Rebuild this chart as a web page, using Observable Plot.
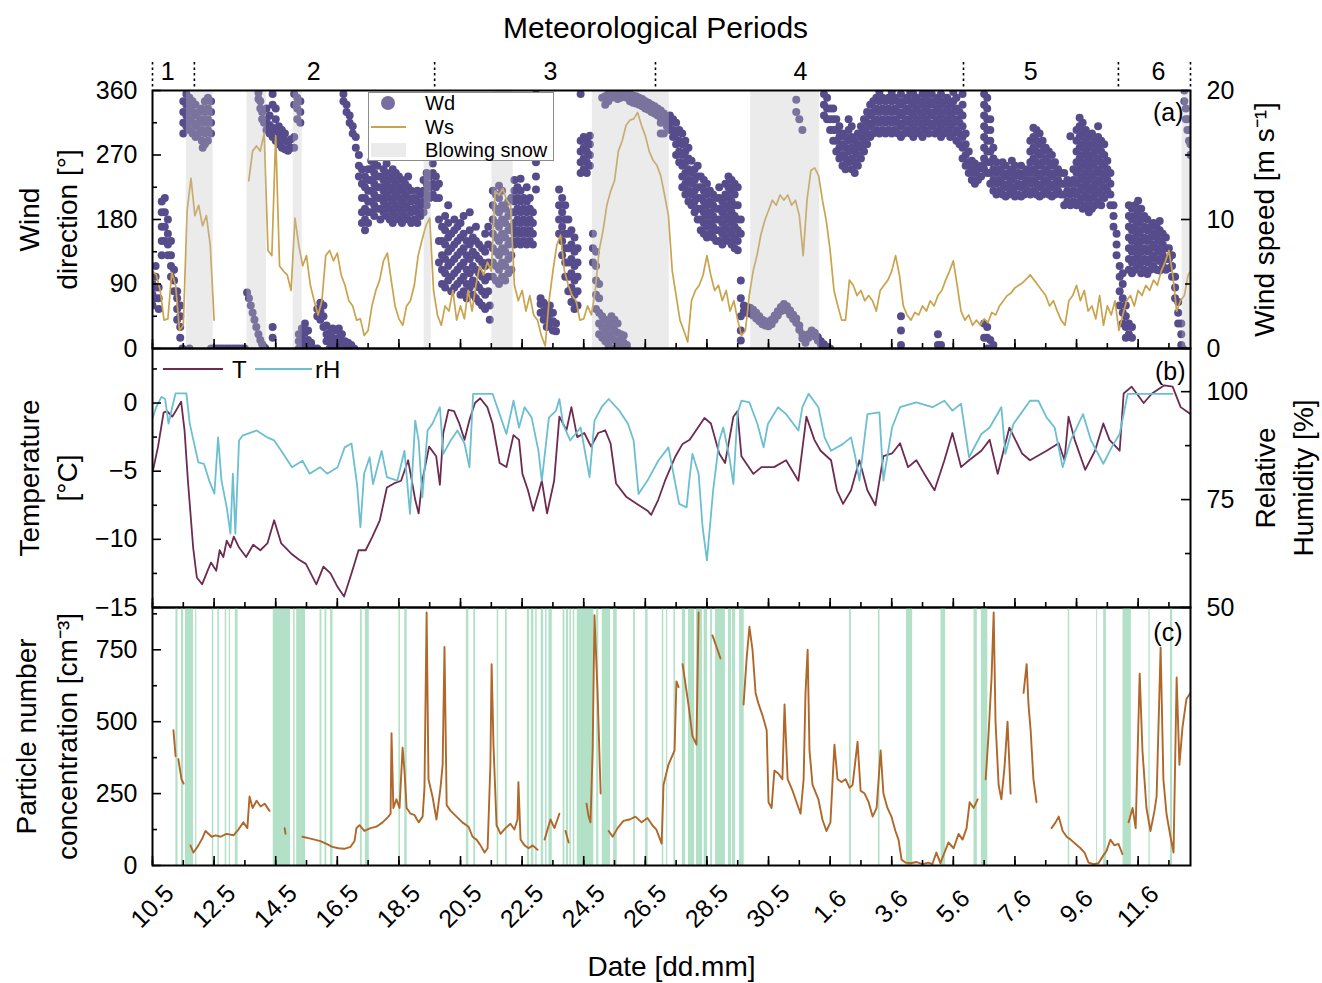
<!DOCTYPE html>
<html><head><meta charset="utf-8">
<script src="https://cdn.jsdelivr.net/npm/d3@7"></script>
<script src="https://cdn.jsdelivr.net/npm/@observablehq/plot@0.6"></script>
<style>
body{margin:0;background:#fff;}
#wrap{position:relative;width:1322px;height:983px;font-family:"Liberation Sans",Arial,sans-serif;}
#wrap > svg{display:block;}
#overlay{position:absolute;left:0;top:0;pointer-events:none;}
</style></head><body><div id="wrap"></div>
<script>
// ---------- data (time = days since 10.05 00:00) ----------
const xDomain = [0, 33.7];
const tickDays = [0,2,4,6,8,10,12,14,16,18,20,22,24,26,28,30,32];
const tickLabels = ["10.5","12.5","14.5","16.5","18.5","20.5","22.5","24.5","26.5","28.5","30.5","1.6","3.6","5.6","7.6","9.6","11.6"];
const periodBounds = [0,1.36,9.16,16.33,26.33,31.36,33.7];
const periodNames = ["1","2","3","4","5","6"];
const periodLabelDays = [0.49,5.23,12.92,21.04,28.51,32.66];
const snowPeriods = [[1.10,1.97],[3.07,3.70],[4.57,4.86],[8.82,9.05],[11.02,11.71],[14.28,16.78],[19.42,21.66],[33.43,33.70]];
const pollutedPeriods = [[0.76,0.83],[0.94,1.01],[1.07,1.33],[1.40,1.44],[1.94,1.99],[2.12,2.17],[2.36,2.41],[2.49,2.53],[2.69,2.78],[3.92,4.48],[4.58,4.63],[4.68,4.97],[5.44,5.50],[5.60,5.66],[5.78,5.86],[6.75,6.81],[6.91,7.04],[8.00,8.05],[8.19,8.27],[10.19,10.27],[10.43,10.49],[11.19,11.24],[11.46,11.52],[12.17,12.24],[12.30,12.38],[12.44,12.49],[12.62,12.70],[12.76,12.81],[12.87,12.98],[13.33,13.39],[13.44,13.51],[13.55,13.60],[13.66,13.71],[13.79,14.33],[14.42,14.49],[14.60,14.87],[14.97,15.09],[15.62,15.68],[16.01,16.09],[16.55,16.60],[16.69,16.73],[16.93,16.98],[17.20,17.31],[17.40,17.60],[17.66,17.86],[17.91,18.02],[18.12,18.18],[18.28,18.60],[18.70,18.80],[18.83,18.93],[19.06,19.21],[22.63,22.69],[23.57,23.62],[24.48,24.68],[25.60,25.75],[26.67,26.78],[26.91,27.12],[29.73,29.78],[30.65,30.68],[30.88,30.97],[31.51,31.78],[32.35,32.39],[33.05,33.12]];

// wind speed [m/s], every 0.125 day from day 0 (null = no data)
const wsStart = 0, wsStep = 0.125;
const wsValues = [6.0,5.7,4.5,2.2,2.3,5.9,4.9,1.4,1.8,10.7, 13.2,10.3,11.1,9.5,10.3,8.0,2.2,null,null,null, null,null,null,null,null,13.0,15.3,15.7,15.3,16.7, 7.6,7.2,16.5,6.4,6.0,5.7,4.5,10.1,8.0,6.4, 7.2,4.9,3.7,2.6,3.7,7.2,7.6,6.8,7.4,5.7, 4.9,3.7,3.3,2.2,2.3,1.0,1.4,3.3,4.5,5.3, 6.8,7.4,5.3,3.3,2.3,1.8,3.3,3.7,4.9,7.2, 8.4,9.5,10.1,4.5,2.6,1.8,3.3,2.9,4.5,2.2, 3.3,2.3,4.5,2.9,4.9,6.4,5.7,6.7,6.0,12.2, 11.9,12.4,11.5,11.1,4.9,3.7,4.5,2.9,4.1,2.6, 2.2,1.0,0.2,3.7,6.0,8.0,8.8,6.0,4.9,4.1, 3.7,2.2,2.3,3.3,2.6,4.5,7.6,9.1,11.1,12.2, 13.0,15.3,16.1,17.3,17.7,17.8,18.3,17.3,16.5,15.3, 14.6,14.2,13.4,11.9,10.3,6.0,4.1,2.2,1.4,0.5, 3.7,4.5,4.9,5.7,7.2,5.7,4.5,4.9,3.7,4.5, 2.9,3.7,2.2,1.0,1.4,4.1,6.0,7.2,8.8,9.9, 10.7,11.5,11.1,11.9,11.5,11.9,11.1,11.5,10.3,7.2, 11.5,13.8,14.0,13.4,11.5,9.9,7.6,4.5,3.3,2.2, 2.2,5.3,4.9,4.1,4.5,3.7,4.1,3.7,2.9,4.5, 4.9,5.3,6.0,7.2,5.7,3.3,2.6,2.2,2.8,2.6, 3.3,2.9,3.7,3.3,4.1,4.5,5.3,6.0,6.8,4.9, 2.9,2.2,2.6,1.8,2.2,1.8,2.3,2.0,2.8,2.6, 3.3,3.7,4.1,4.3,4.7,4.9,5.1,5.4,5.7,5.3, 4.9,4.5,4.1,3.3,3.7,2.9,2.2,1.8,3.7,4.1, 4.9,3.7,4.5,2.9,3.3,2.3,4.1,1.8,3.3,2.6, 3.7,1.4,2.6,3.7,4.1,3.3,4.5,4.1,4.9,4.5, 5.3,4.9,6.0,6.7,7.6,5.7,2.9,3.7,4.1,5.7, 6.2];

// wind direction [deg]: [day, values observed at that time...]
const wdRows = [
[0.0,60,75,90],[0.1,70,85,100,115],[0.2,55,70,85],[0.3,130,150,170,190,205],[0.4,150,170,190,210],[0.5,130,145,160,180],[0.6,100,115,130,150],[0.7,80,95,110],[0.8,40,55,70,80],[0.9,15,30,45,60],[0.97,0],
[1.0,300,315,330,345],[1.1,310,325,340,355],[1.2,305,320,335,350,0],[1.3,300,315,330,345],[1.4,295,310,325,340],[1.5,300,315,330],[1.6,290,305,320,335],[1.63,280],[1.7,285,300,315,330,345],[1.8,290,305,320,335,350],[1.9,300,315,330,345,0],
[2.0,0],[2.1,0],[2.2,0],[2.3,0],[2.4,0],[2.5,0],[2.6,0],[2.7,0],[2.8,0],[2.9,0],[3.0,0],
[3.07,78],[3.13,70],[3.19,60],[3.25,50],[3.31,40],[3.37,30],[3.44,20,357,348],[3.50,12,345,335],[3.56,6,330,320],[3.62,2,315],[3.67,0],
[3.7,305,320,335],[3.8,300,312,325],[3.9,295,308,340,355,30,15],[4.0,290,305,320,335],[4.1,285,298,310],[4.2,280,292,305],[4.3,278,290,300],[4.4,276,288],[4.5,280,292],[4.6,280,295,340,355],[4.7,320,335,350],[4.8,315,330,345],
[4.75,0,10,20],[4.85,5,15,28],[4.95,10,22,35],[5.05,0,12,25],[5.15,0,8],[5.25,0],[5.35,0,45,55],[5.45,40,52,64],[5.55,30,45,60],[5.65,10,20,32],[5.75,0,10,22],[5.85,5,15,28],[5.95,0,12,25],[6.05,5,15,28],[6.15,0,10,20],[6.25,0,10],[6.35,0,8],[6.45,0,5],[6.55,0],
[6.2,355,345],[6.3,340,330],[6.4,325,315],[6.5,310,300],[6.6,295,280],[6.7,270,255,240],[6.8,250,230,210,190,175],
[6.9,165,180,195,210,225,240],[7.0,175,190,205,220,235,250],[7.1,190,205,220,235,250,262],[7.2,185,200,215,230,245,258],[7.3,195,210,225,240,255],[7.4,180,195,210,225,240],[7.5,190,205,220,235,250],[7.6,185,200,215,230,245,258],[7.7,180,195,210,225,240],[7.8,175,190,205,220,235,250],[7.9,185,200,215,230,245],[8.0,180,195,210,225,240],[8.1,175,190,205,220,235],[8.2,185,200,215,230],[8.3,180,195,210,225,240],[8.4,175,190,205,220],[8.5,180,195,210],[8.6,175,190,205,220],[8.7,185,200,215],[8.8,190,205,220,235],[8.9,200,215,230,245],[9.0,210,225,240],[9.1,215,230,245,258],[9.2,210,225,240],
[9.3,120,150,180,210,230],[9.4,90,110,130,150,170],[9.5,85,105,125,145,165,185],[9.6,95,115,135,155,175,200],[9.7,80,100,120,140,160],[9.8,85,105,125,145,165,180],[9.9,90,110,130,150,170],[10.0,75,95,115,135,155,175],[10.1,80,100,120,140,160,185],[10.2,70,90,110,130,150],[10.3,85,105,125,145,165,190],[10.4,75,95,115,135,155],[10.5,70,90,110,130,150,170],[10.6,65,85,105,125,145],[10.7,60,80,100,120,140],[10.8,55,75,95,115,135,160],[10.9,80,100,120,145,170],[10.95,40,60],
[11.05,100,120,140,160,180,200,220],[11.15,95,115,135,155,175,195,215],[11.25,90,110,130,150,170,190,210,227],[11.35,100,120,140,160,180,200,220],[11.45,95,115,135,155,175,195],[11.55,105,125,145,165,185,205],[11.65,110,130,150,170,190,210],[11.75,145,160,175,190,205,220,235],[11.85,150,165,180,195,210,225],[11.95,145,160,175,190,205,220,237],[12.05,150,165,180,195,210],[12.15,145,160,175,190,205,225],[12.25,150,165,180,195,210],[12.35,145,160,175,190],[12.45,355,222,240,260],
[12.55,350],[12.6,50,62,70],[12.7,40,52,64],[12.8,30,42,55],[12.9,35,48,60],[13.0,25,38,50],[13.1,24,35],
[13.2,160,180,200,222],[13.3,130,150,170,190,210],[13.4,100,120,140,160,180,200],[13.5,80,100,120,140,160,180],[13.6,65,85,105,125,145,165],[13.7,55,75,95,115,135,155],[13.8,60,80,100,120,140],[13.9,355,245,260,275,290],
[14.0,250,265,280,295],[14.1,245,260,275,290],[14.2,255,270,285,297],
[14.3,120,140,160],[14.4,55,75,95,115,135],[14.5,20,35,50,70,90],[14.6,15,30,45,350],[14.7,10,25,40,340,352],[14.8,5,20,35,345,355],[14.9,0,15,30,45,350],[15.0,0,12,25,40,355],[15.1,0,10,22,35,348,358],[15.2,0,10,20,350],[15.3,0,8,18,355],[15.4,0,5,350,358],
[15.5,345,355],[15.6,343,353],[15.7,342,352],[15.8,340,350],[15.9,338,348],[16.0,335,345],[16.1,333,343],[16.2,330,340],[16.3,328,338],[16.4,325,335],[16.5,300,315,322,332],[16.6,300,318,328],[16.7,310,320],[16.8,305,315,325],[16.9,295,305,320],
[17.0,270,285,300,315],[17.1,260,275,290,305],[17.2,225,240,255,270,285,300],[17.3,215,230,245,260,275,290],[17.4,205,220,235,250,265,280],[17.5,200,215,230,245,262],
[17.6,190,205,220,235,250],[17.7,180,195,210,225,240,255],[17.8,165,180,195,210,225,240],[17.9,160,175,190,205,220,235],[18.0,155,170,185,200,215,230],[18.1,160,175,190,205,220],[18.2,155,170,185,200,215],[18.3,150,165,180,195,210],[18.4,150,165,180,195,210,225],[18.5,145,160,175,190,205],[18.6,155,170,185,200,215,230],[18.7,150,165,180,195,210,225,240],[18.8,145,160,175,190,205,220,235],[18.9,140,155,170,185,200,215,230],[19.0,137,150,165,180,200,225],[19.1,11,25,45,70,95,160,180],
[19.2,60,52],[19.3,58,50],[19.4,57,49],[19.5,54,46],[19.6,50,42],[19.7,45,38],[19.8,40,34],[19.9,38,32],[20.0,37,31],[20.1,40,34],[20.2,46,40],[20.3,52,46],[20.4,58,52],[20.5,62,56],[20.6,59,53],[20.7,53,47],[20.8,47,41],[20.9,42,36,347,330],[21.0,32,26,320],[21.1,20,14,305],[21.2,13,8],[21.3,20,15],[21.4,25,20],[21.5,22,17],[21.6,16,11],[21.7,10,6],[21.8,6,2],[21.9,2],[22.0,0],
[21.8,325,340,355],[21.9,320,335,350],[22.0,305,320,335],[22.1,290,305,320,335],[22.2,275,290,305,320],[22.3,265,280,295,310],[22.4,255,270,285,300],[22.5,250,265,280,295],[22.6,260,275,290,305,320],[22.7,250,265,280,295,310],[22.8,245,260,275,290],[22.9,255,270,285,300],[23.0,265,280,295,310],[23.1,275,290,305,320],[23.2,285,300,315,330],[23.3,295,310,325,340],[23.4,300,315,330,345],[23.5,305,320,335,350],[23.6,300,315,330,345,358],[23.7,305,320,335,350],[23.8,300,315,330,345],[23.9,305,320,335,350],[24.0,300,315,330,345,358],[24.1,305,320,335,350],[24.2,300,315,330,345],
[24.3,295,310,325,340,355,5,25,45],[24.4,300,315,330,345],[24.5,305,320,335,350],[24.6,300,315,330,345,358],[24.7,295,310,325,340,355],[24.8,305,320,335,350],[24.9,300,315,330,345],[25.0,295,310,325,340,355],[25.1,305,320,335,350],[25.2,300,315,330,345,358],[25.3,310,325,340,355],[25.4,300,315,330,345],[25.5,305,320,335,350,5,20],[25.6,295,310,325,340,355,5],[25.7,300,315,330,345],[25.8,305,320,335,350],[25.9,295,310,325,340],[26.0,300,315,330,345,358],[26.1,290,305,320,335,350],[26.2,285,300,315,330],
[26.3,265,280,295,310,325,340,355],[26.4,255,270,285,300],[26.5,245,260,275],[26.6,235,250,262],[26.7,230,245,258],[26.8,235,250],[26.9,240,255],[27.0,15,35,250,265,280,295,310,325,340,355],[27.1,0,15,30,245,260,275,290,305,320,335,350],[27.2,0,12,230,245,260,275,290,305,320],[27.3,5,220,235,250,265,280],[27.4,215,230,245,260],[27.5,220,235,250],
[27.6,215,230,245,260],[27.7,212,225,240,255],[27.8,215,230,245],[27.9,220,235,250,262],[28.0,212,225,240,255],[28.1,215,230,245],[28.2,212,225,240,255],[28.3,215,230,245],[28.4,220,235,250],
[28.5,215,230,245,260,275,290],[28.6,220,235,250,265,280,295,308],[28.7,215,230,245,260,275,290,305],[28.8,212,225,240,255,270,285,300],[28.9,215,230,245,260,275,290],[29.0,220,235,250,265,280],[29.1,215,230,245,260,275],[29.2,212,225,240,255,270],[29.3,215,230,245,260],[29.4,220,235,250],[29.5,215,230,245],
[29.6,200,215,230,245],[29.7,205,220,235],[29.8,200,215,230,296],[29.9,205,220,235,250],[30.0,200,215,230,245,260,275,290,305],[30.1,205,220,235,250,265,280,295,310,322],[30.2,195,210,225,240,255,270,285,300,315],[30.3,200,215,230,245,260,275,290,305],[30.4,190,205,220,235,250,265,280,295],[30.5,195,210,225,240,255,270,285,300],[30.6,200,215,230,245,260,275,290],[30.7,205,220,235,250,265,280,295,310],[30.8,200,215,230,245,260,275,290],[30.9,210,225,240,255,270,285],[31.0,220,235,250,262],
[31.1,200,215,230,245],[31.2,170,185,200],[31.3,130,145,160],[31.4,60,80,100,115],[31.5,35,50,70,90,105],[31.6,15,30,45,60],
[31.7,110,125,140,155,170,185,200,20,35],[31.8,105,120,135,150,165,180,195,15,30],[31.9,110,125,140,155,170,185,200],[32.0,115,130,145,160,175,190,206],[32.1,105,120,135,150,165,180,195],[32.2,110,125,140,155,170,185],[32.3,104,120,135,150,165,180],
[32.4,110,125,140,155,170],[32.5,115,130,145,160,175],[32.6,110,125,140,155,170],[32.7,109,122,135,150,165,178],[32.8,115,130,145,160],[32.9,110,125,140,155],[33.0,112,125,140],[33.1,100,115,130],
[33.2,70,85,100],[33.3,35,50,65],[33.4,5,20,35],[33.45,0],
[33.5,345,360],[33.55,320,335],[33.6,305,320],[33.65,290,305],[33.7,270,285]
];

// temperature [°C]
const tDays = [0.01,0.18,0.36,0.47,0.64,0.75,0.93,1.04,1.15,1.32, 1.44,1.61,1.79,1.90,2.07,2.18,2.30,2.41,2.53,2.64, 2.81,3.04,3.27,3.50,3.73,3.95,4.18,4.53,4.76,4.98, 5.32,5.55,5.78,6.01,6.22,6.46,6.69,6.92,7.14,7.38, 7.61,7.84,8.07,8.30,8.53,8.64,8.76,8.98,9.21,9.33, 9.44,9.61,9.79,9.96,10.13,10.29,10.47,10.64,10.87,11.04, 11.27,11.49,11.72,11.90,12.01,12.19,12.36,12.53,12.64,12.81, 13.04,13.21,13.44,13.60,13.79,14.02,14.24,14.47,14.70,14.87, 15.05,15.39,15.73,16.07,16.19,16.42,16.64,16.98,17.21,17.44, 17.92,18.13,18.40,18.59,18.86,18.99,19.12,19.51,19.77,20.18, 20.57,20.97,21.23,21.49,21.69,22.03,22.22,22.42,22.68,22.95, 23.21,23.47,23.73,24.01,24.27,24.53,24.80,25.06,25.39,25.71, 25.97,26.25,26.51,26.91,27.18,27.44,27.82,28.23,28.49,29.03, 29.42,29.61,29.74,29.94,30.28,30.60,30.87,31.07,31.40,31.53, 31.79,32.18,32.45,32.85,33.12,33.38,33.57,33.70];
const tValues = [-5.0,-3.2,-0.7,-0.6,-1.0,-0.6,0.1,-2.0,-5.7,-10.6, -12.8,-13.3,-12.3,-11.7,-12.3,-10.8,-11.3,-10.1,-10.6,-9.8, -10.6,-11.3,-10.4,-10.8,-10.3,-8.6,-10.3,-11.1,-11.5,-11.8, -13.3,-12.0,-12.5,-13.5,-14.2,-12.5,-10.8,-10.8,-9.8,-8.6, -6.2,-5.9,-5.7,-4.2,-7.1,-8.1,-5.7,-3.2,-3.9,-6.0, -2.2,-0.5,-0.6,-1.5,-2.7,-1.25,0,0.35,-0.3,-1.5, -4.4,-4.7,-2.35,-2.7,-5.2,-6.4,-7.9,-6.6,-5.7,-8.1, -5.7,-1.0,-2.0,-0.3,-2.5,-2.2,-3.2,-2.2,-2.0,-2.95, -5.9,-6.9,-7.4,-7.9,-8.2,-7.1,-5.7,-3.9,-3.0,-2.7, -1.1,-1.5,-3.7,-4.4,-1.0,-0.6,-3.9,-5.2,-4.7,-4.7, -4.2,-5.7,-1.0,-2.7,-3.5,-4.2,-6.4,-7.4,-6.4,-4.2, -6.4,-7.5,-3.9,-3.7,-2.95,-4.7,-4.2,-5.2,-6.4,-4.2, -2.2,-4.7,-4.2,-3.5,-2.7,-5.2,-1.8,-3.7,-4.2,-3.5, -2.95,-4.2,-1.0,-2.7,-4.9,-3.5,-1.5,-2.7,-3.5,0.7, 1.2,0,0.7,1.3,1.2,-0.3,-0.6,-0.8];

// relative humidity [%]
const rhDays = [0.01,0.12,0.29,0.41,0.52,0.64,0.75,1.10,1.21,1.38, 1.49,1.67,1.84,2.01,2.13,2.24,2.41,2.53,2.61,2.69, 2.81,2.92,3.38,3.73,3.95,4.18,4.53,4.87,5.10,5.44, 5.67,6.01,6.24,6.46,6.64,6.75,6.87,7.05,7.16,7.44, 7.61,7.95,8.18,8.36,8.53,8.64,8.76,8.93,9.09,9.33, 9.44,9.68,9.90,10.13,10.29,10.41,11.04,11.27,11.49,11.72, 11.90,12.08,12.31,12.53,12.64,12.87,13.10,13.21,13.33,13.56, 13.90,14.19,14.35,14.58,14.81,15.16,15.44,15.62,15.78,16.07, 16.42,16.75,17.10,17.34,17.44,17.53,17.73,17.86,18.00,18.20, 18.40,18.53,18.73,18.86,18.99,19.12,19.38,19.64,19.84,19.98, 20.31,20.57,20.97,21.10,21.30,21.62,21.82,22.03,22.42,22.68, 22.82,22.95,23.21,23.60,23.73,24.01,24.27,24.80,25.32,25.71, 25.97,26.25,26.51,26.91,27.18,27.56,27.69,27.95,28.49,28.76, 29.03,29.29,29.55,29.81,30.21,30.47,30.87,31.14,31.40,31.66, 33.12];
const rhValues = [94.0,96.4,98.8,98.3,92.6,96.4,99.6,99.6,92.6,87.1, 83.6,83.3,79.4,76.4,89.4,79.4,73.2,67.1,81,67.1, 88.7,89.8,91.0,89.4,88.7,86.3,82.5,84.0,81,82.5, 81,82.5,87.1,88,78.6,68.6,81,84.8,78.6,86.3, 80.2,79.4,86.3,71.7,93.3,88.7,75.5,91,92.6,96.4, 85.6,88.7,91,88,82.5,99.5,99.5,94.8,90.2,97.9, 91.7,96.4,94.0,86.3,79.4,94,95.6,98.3,92.5,88.7, 91.7,80.2,93.3,96.4,98.3,95.6,92.5,88.7,76.3,79.4, 84.0,87.1,74,73.2,80.2,85.6,81,68.6,60.9,77, 88.7,91.7,84.8,78.6,94.8,97.9,97.5,92.5,87.1,92.5, 96.4,94.8,91,96.4,99.5,96.4,89.4,86.3,87.9,89.4, 84.8,79.4,94.8,95.2,79.4,91.7,96.4,97.5,96.4,97.9, 95.6,97.2,84.8,90.2,91.7,96.4,85.6,92.5,97.9,97.9, 94,91.7,82.5,88.7,94.8,88.7,83.3,87.1,90.2,99.5, 99.5];

// particle number concentration [cm^-3] (null = gap)
const pncDays = [0.68,0.75,0.80,0.84,0.94,1.01,1.05,1.23,1.33,1.43,1.49,1.62,1.72,1.92,2.05,2.21,2.40,2.63,2.79,2.95,3.08,3.15,3.25,3.38,3.51,3.64,3.80,3.85,4.29,4.32,4.40,4.87,5.06,5.26,5.45,5.65,5.84,6.04,6.23,6.43,6.56,6.62,6.72,6.88,7.08,7.27,7.47,7.66,7.73,7.76,7.82,7.92,8.02,8.12,8.18,8.25,8.38,8.51,8.64,8.77,8.83,8.90,8.96,9.09,9.22,9.35,9.42,9.48,9.55,9.68,9.87,10.06,10.26,10.39,10.52,10.65,10.78,10.88,10.97,11.01,11.07,11.17,11.30,11.46,11.62,11.75,11.85,11.88,11.95,12.08,12.21,12.34,12.50,12.60,12.73,12.92,13.05,13.21,13.30,13.41,13.51,13.60,14.09,14.16,14.22,14.29,14.35,14.45,14.55,14.65,14.81,14.94,15.10,15.29,15.49,15.68,15.88,16.07,16.23,16.36,16.53,16.59,16.75,16.95,17.01,17.08,17.15,17.21,17.40,17.53,17.66,17.73,17.90,18.18,18.31,18.44,18.60,19.19,19.29,19.38,19.48,19.58,19.68,19.81,19.94,20.00,20.10,20.19,20.32,20.45,20.52,20.62,20.78,20.91,21.04,21.14,21.20,21.27,21.33,21.43,21.62,21.75,21.88,22.01,22.14,22.24,22.37,22.50,22.63,22.73,22.89,22.99,23.12,23.25,23.38,23.51,23.64,23.73,23.86,23.99,24.12,24.22,24.32,24.45,24.61,24.81,25.00,25.19,25.32,25.45,25.58,25.84,26.01,26.17,26.30,26.43,26.53,26.66,26.79,26.85,27.05,27.14,27.24,27.31,27.37,27.47,27.56,27.66,27.76,27.86,28.00,28.28,28.38,28.44,28.51,28.60,28.70,28.90,29.19,29.32,29.42,29.55,29.68,29.81,29.97,30.13,30.26,30.39,30.55,30.71,30.84,30.97,31.10,31.23,31.36,31.49,31.60,31.69,31.82,31.92,32.05,32.14,32.27,32.40,32.53,32.60,32.73,32.82,32.92,33.05,33.15,33.25,33.34,33.44,33.57,33.70];
const pncValues = [470,380,null,370,300,285,null,70,45,60,70,95,120,100,105,100,110,105,125,150,130,240,200,225,205,215,190,null,130,110,null,100,95,90,85,75,65,60,58,65,85,130,140,120,130,135,150,170,180,460,200,230,200,410,330,200,180,175,150,170,270,880,300,240,160,270,350,760,210,190,170,150,135,100,90,70,45,60,350,700,420,140,110,130,145,125,160,290,90,70,60,70,55,null,90,160,130,180,null,120,80,null,215,170,150,400,870,600,250,null,120,100,130,155,160,170,150,165,140,125,76,280,350,400,640,620,null,700,560,450,420,880,null,800,760,720,null,560,720,830,750,600,560,520,470,220,200,330,320,300,560,300,260,220,180,300,600,750,400,280,230,160,120,150,420,300,290,300,270,280,430,260,250,220,170,200,400,250,200,170,120,90,20,10,8,12,5,10,5,45,8,80,60,110,90,130,220,200,230,null,300,450,650,880,500,280,230,340,500,250,null,600,700,560,470,300,220,null,130,150,170,120,100,90,75,60,45,10,5,8,30,50,90,70,75,40,null,150,200,130,667,400,200,120,190,240,758,300,180,100,45,654,350,480,580,600];

// axis tick values
const wdTicks = [0,90,180,270,360], wdMinor = [45,135,225,315];
const wsTicks = [0,10,20], wsMinor = [5,15];
const tTicks = [-15,-10,-5,0], tMinor = [-12.5,-7.5,-2.5,2.5];
const rhTicks = [50,75,100], rhMinor = [62.5,87.5];
const pncTicks = [0,250,500,750], pncMinor = [125,375,625,875];

// ---------- drawing ----------
const W = 1322, ML = 152, MR = 132, innerW = W - ML - MR;
const FONT = "'Liberation Sans', Arial, sans-serif";
const style = {fontFamily: FONT, fontSize: "25px", background: "transparent", overflow: "visible", color: "#000"};
const MAJ = 9, MIN = 5, TSW = 1.6;
const minus = d => d < 0 ? "\u2212" + (-d) : String(d);
const dayTicks = d3.range(0, 34);

function bottomTicks(innerH) {
  return [
    Plot.ruleX(dayTicks, {x: d => d, stroke: "#000", strokeWidth: TSW, insetTop: innerH - MIN}),
    Plot.ruleX(tickDays, {x: d => d, stroke: "#000", strokeWidth: TSW, insetTop: innerH - MAJ})
  ];
}
function sideTicks(major, minor, side, map = d => d) {
  const inset = len => side === "left" ? {insetRight: innerW - len} : {insetLeft: innerW - len};
  return [
    Plot.ruleY(minor, {y: map, stroke: "#000", strokeWidth: TSW, ...inset(MIN)}),
    Plot.ruleY(major, {y: map, stroke: "#000", strokeWidth: TSW, ...inset(MAJ)})
  ];
}
function sideLabels(values, side, map = d => d, fmt = minus) {
  return Plot.text(values, {y: map, text: fmt, frameAnchor: side, textAnchor: side === "left" ? "end" : "start", lineAnchor: "middle", dx: side === "left" ? -15 : 16});
}
function title(lines, side, dxs, size = 28) {
  return lines.map((s, i) => Plot.text([s], {text: d => d, frameAnchor: side, textAnchor: "middle", lineAnchor: "middle", rotate: -90, dx: dxs[i], fontSize: size}));
}
const label = (s, anchor, dx, dy, size) => Plot.text([s], {text: d => d, frameAnchor: anchor, lineAnchor: "middle", dx, dy, fontSize: size});

const wrap = document.getElementById("wrap");

// panel (a)
const WS2DEG = 360 / 20;
const wdData = wdRows.flatMap(([day, ...degs]) => degs.map(deg => ({day, deg})));
const wsData = wsValues.map((v, i) => ({day: wsStart + i * wsStep, ws: v == null ? NaN : v}));
const innerHa = 258;
wrap.appendChild(Plot.plot({
  width: W, height: 348, marginLeft: ML, marginRight: MR, marginTop: 90, marginBottom: 0,
  style,
  x: {domain: xDomain, axis: null},
  y: {domain: [0, 360], axis: null},
  marks: [
    Plot.dot(wdData, {x: "day", y: "deg", r: 4, fill: "#574c8b", clip: true}),
    Plot.line(wsData, {x: "day", y: d => d.ws * WS2DEG, stroke: "#c9a34d", strokeWidth: 1.7, clip: true}),
    Plot.rect(snowPeriods, {x1: d => d[0], x2: d => d[1], fill: "#c3c3c3", fillOpacity: 0.33}),
    Plot.ruleX(periodBounds, {x: d => d, stroke: "#000", strokeWidth: 1.6, strokeDasharray: "2.5,3", insetTop: -28, insetBottom: innerHa + 2}),
    Plot.text(periodNames, {x: (d, i) => periodLabelDays[i], text: d => d, frameAnchor: "top", lineAnchor: "middle", dy: -19}),
    label("Meteorological Periods", "top", -16, -62, 30),
    ...bottomTicks(innerHa),
    ...sideTicks(wdTicks, wdMinor, "left"),
    ...sideTicks(wsTicks, wsMinor, "right", d => d * WS2DEG),
    sideLabels(wdTicks, "left"),
    sideLabels(wsTicks, "right", d => d * WS2DEG),
    Plot.frame({stroke: "#000", strokeWidth: 2}),
    Plot.text(["(a)"], {text: d => d, frameAnchor: "top-right", lineAnchor: "middle", dx: -7, dy: 22}),
    ...title(["Wind", "direction [°]"], "left", [-122, -84]),
    ...title(["Wind speed [m s\u207B\u00B9]"], "right", [75])
  ]
}));

// panel (b)
const T_LO = -15, T_HI = 4, RH_LO = 50, RH_HI = 110;
const rh2t = v => T_LO + (v - RH_LO) * (T_HI - T_LO) / (RH_HI - RH_LO);
const tData = tDays.map((d, i) => ({day: d, v: tValues[i]}));
const rhData = rhDays.map((d, i) => ({day: d, v: rh2t(rhValues[i])}));
const innerHb = 259;
wrap.appendChild(Plot.plot({
  width: W, height: 259, marginLeft: ML, marginRight: MR, marginTop: 0, marginBottom: 0,
  style,
  x: {domain: xDomain, axis: null},
  y: {domain: [T_LO, T_HI], axis: null},
  marks: [
    Plot.line(tData, {x: "day", y: "v", stroke: "#6e2b50", strokeWidth: 1.8, clip: true}),
    Plot.line(rhData, {x: "day", y: "v", stroke: "#6bbfd1", strokeWidth: 1.8, clip: true}),
    ...bottomTicks(innerHb),
    ...sideTicks(tTicks, tMinor, "left"),
    ...sideTicks(rhTicks, rhMinor, "right", rh2t),
    sideLabels(tTicks, "left"),
    sideLabels(rhTicks, "right", rh2t),
    Plot.frame({stroke: "#000", strokeWidth: 2}),
    Plot.text(["(b)"], {text: d => d, frameAnchor: "top-right", lineAnchor: "middle", dx: -5, dy: 23}),
    ...title(["Temperature", "[°C]"], "left", [-122, -84]),
    ...title(["Relative", "Humidity [%]"], "right", [76, 114])
  ]
}));

// panel (c)
const pncData = pncDays.map((d, i) => ({day: d, v: pncValues[i] == null ? NaN : pncValues[i]}));
const innerHc = 258;
wrap.appendChild(Plot.plot({
  width: W, height: 376, marginLeft: ML, marginRight: MR, marginTop: 0, marginBottom: 118,
  style,
  x: {domain: xDomain, axis: null},
  y: {domain: [0, 897], axis: null},
  marks: [
    Plot.rect(pollutedPeriods, {x1: d => d[0], x2: d => d[1], fill: "#b3e1c8"}),
    Plot.line(pncData, {x: "day", y: "v", stroke: "#b0672a", strokeWidth: 1.9, clip: true}),
    ...bottomTicks(innerHc),
    ...sideTicks(pncTicks, pncMinor, "left"),
    sideLabels(pncTicks, "left"),
    Plot.frame({stroke: "#000", strokeWidth: 2}),
    Plot.text(["(c)"], {text: d => d, frameAnchor: "top-right", lineAnchor: "middle", dx: -8, dy: 25}),
    Plot.text(tickDays, {x: d => d, text: (d, i) => tickLabels[i], frameAnchor: "bottom", lineAnchor: "middle", dy: 41, rotate: -45, textAnchor: "middle"}),
    label("Date [dd.mm]", "bottom", 0, 102, 28),
    ...title(["Particle number", "concentration [cm\u207B\u00B3]"], "left", [-125, -84])
  ]
}));

// legends (overlay)
const ov = document.createElementNS("http://www.w3.org/2000/svg", "svg");
ov.setAttribute("id", "overlay");
ov.setAttribute("width", W); ov.setAttribute("height", 983);
ov.setAttribute("font-family", FONT);
ov.innerHTML = `
<rect x="368.5" y="92.5" width="185" height="68" fill="#fff" stroke="#8c8c8c" stroke-width="1"/>
<circle cx="388" cy="103" r="7" fill="#776da0"/>
<text x="425" y="110" font-size="20">Wd</text>
<line x1="371" x2="406" y1="127" y2="127" stroke="#c9a34d" stroke-width="2"/>
<text x="425" y="134" font-size="20">Ws</text>
<rect x="371" y="143" width="35" height="14" fill="#ebebeb"/>
<text x="425" y="157" font-size="20">Blowing snow</text>
<line x1="163" x2="223" y1="369" y2="369" stroke="#6e2b50" stroke-width="2"/>
<text x="232" y="378" font-size="24">T</text>
<line x1="255" x2="312" y1="369" y2="369" stroke="#6bbfd1" stroke-width="2"/>
<text x="315" y="378" font-size="24">rH</text>`;
wrap.appendChild(ov);
</script></body></html>
